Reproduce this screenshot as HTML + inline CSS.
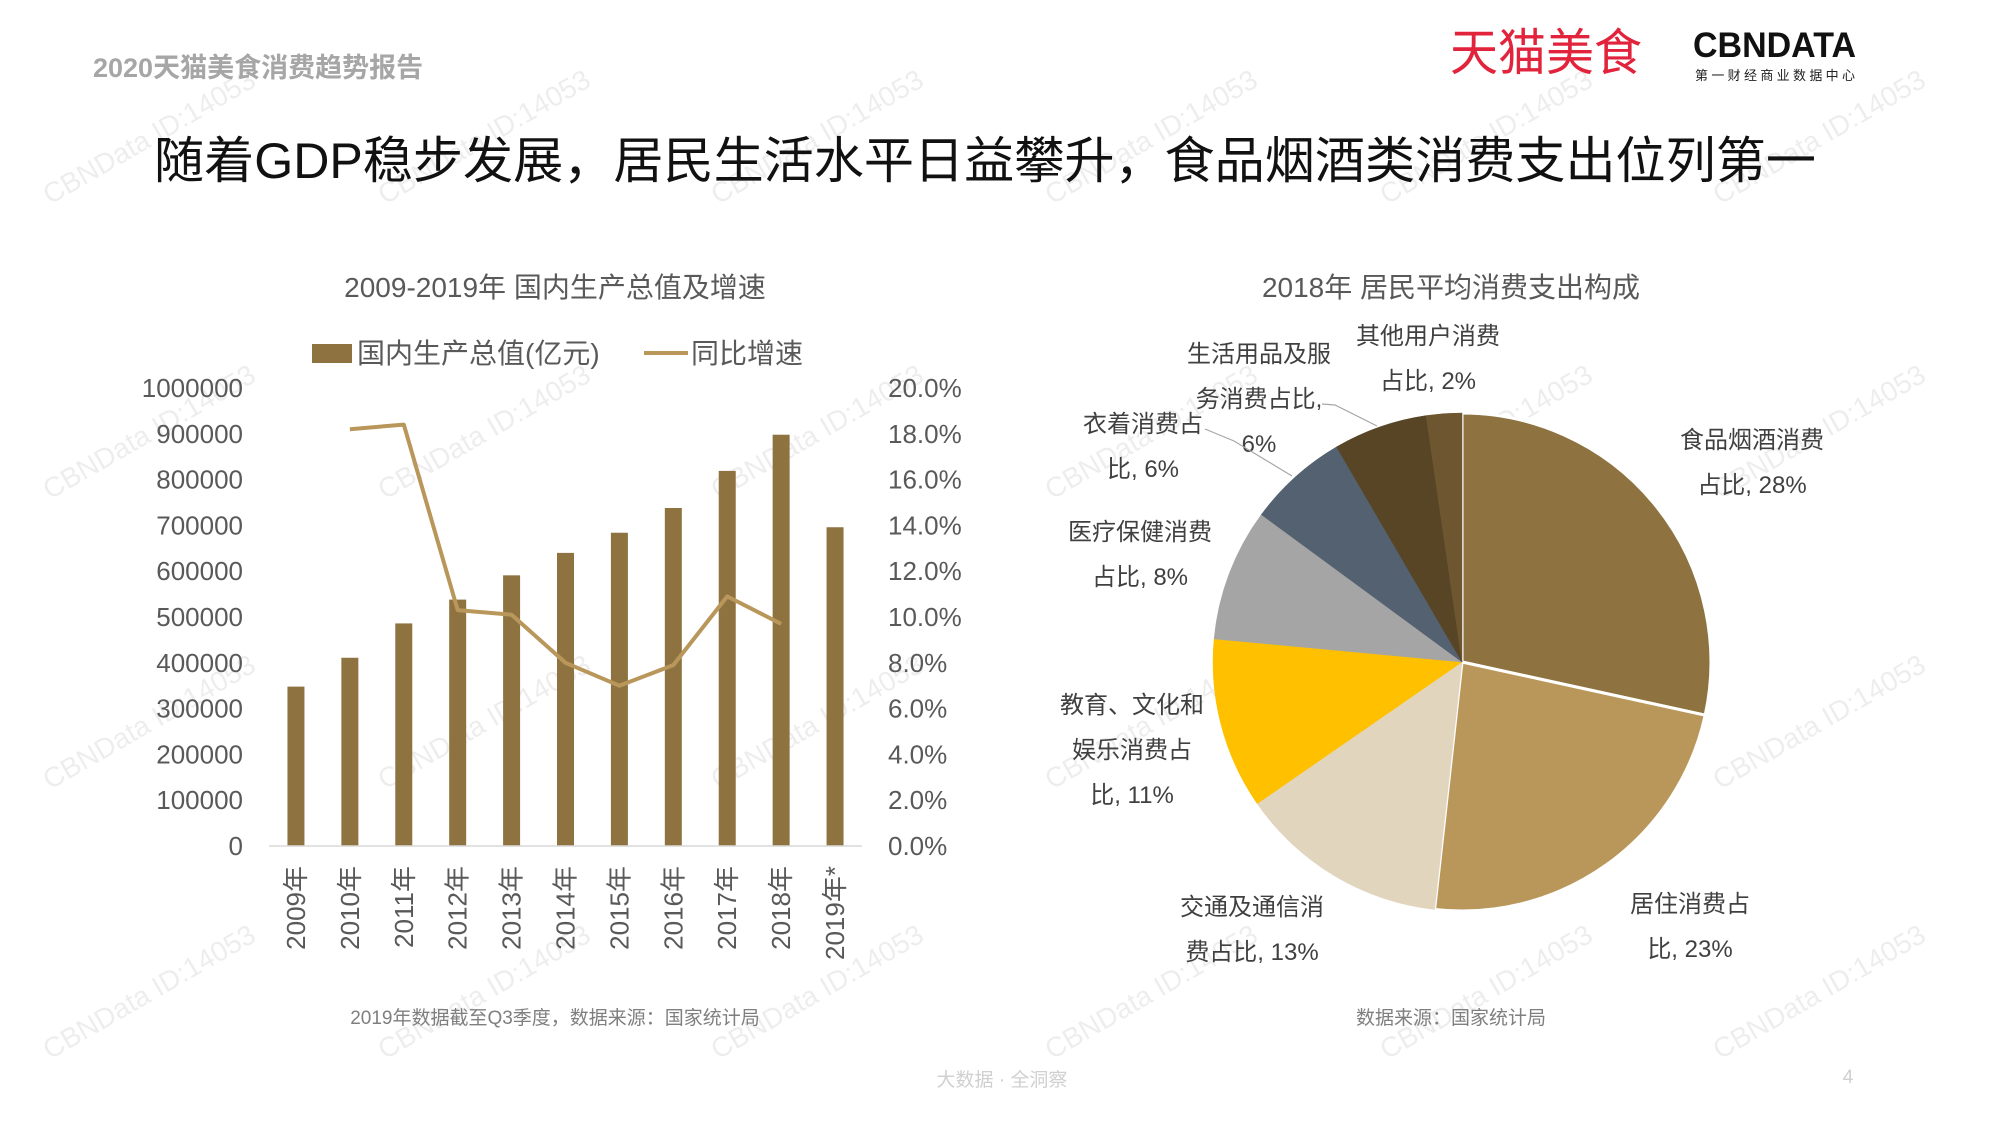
<!DOCTYPE html>
<html><head><meta charset="utf-8"><style>
html,body{margin:0;padding:0;background:#fff;}
svg{display:block;font-family:"Liberation Sans","Noto Sans CJK SC",sans-serif;}
</style></head><body>
<svg id="s" width="2000" height="1125" viewBox="0 0 2000 1125" xmlns="http://www.w3.org/2000/svg">
<g id="wm"></g>
<text x="93" y="77" font-size="27" font-weight="bold" fill="#a6a6a6">2020天猫美食消费趋势报告</text>
<text x="1450" y="70" font-size="50" fill="#e2233c" textLength="192" lengthAdjust="spacingAndGlyphs">天猫美食</text>
<g>
<text x="1693" y="57" font-size="35" font-weight="bold" fill="#111" textLength="163" lengthAdjust="spacingAndGlyphs">CBNDATA</text>
<text x="1695" y="80" font-size="13" fill="#222" textLength="160" lengthAdjust="spacing">第一财经商业数据中心</text>
</g>
<text x="985" y="178" font-size="50" fill="#111" text-anchor="middle" textLength="1662" lengthAdjust="spacingAndGlyphs">随着GDP稳步发展，居民生活水平日益攀升，食品烟酒类消费支出位列第一</text>

<text x="555" y="297" font-size="28" fill="#595959" text-anchor="middle">2009-2019年 国内生产总值及增速</text>
<g>
<rect x="312" y="344" width="40" height="19" fill="#8E7340"/>
<text x="357" y="363" font-size="28" fill="#595959">国内生产总值(亿元)</text>
<line x1="644" y1="353" x2="688" y2="353" stroke="#B9975B" stroke-width="4"/>
<text x="691" y="363" font-size="28" fill="#595959">同比增速</text>
</g>
<g id="bar"></g>
<text x="555" y="1024" font-size="19" fill="#7f7f7f" text-anchor="middle">2019年数据截至Q3季度，数据来源：国家统计局</text>

<text x="1451" y="297" font-size="28" fill="#595959" text-anchor="middle">2018年 居民平均消费支出构成</text>
<g id="pie"></g>
<text x="1451" y="1024" font-size="19" fill="#7f7f7f" text-anchor="middle">数据来源：国家统计局</text>

<text x="1002" y="1086" font-size="19" fill="#d0d0d0" text-anchor="middle">大数据 · 全洞察</text>
<text x="1848" y="1083" font-size="19" fill="#d0d0d0" text-anchor="middle">4</text>
</svg>
<script>
const categories=["2009年","2010年","2011年","2012年","2013年","2014年","2015年","2016年","2017年","2018年","2019年*"];
const gdpValues=[348000,411000,486000,538000,591000,640000,684000,738000,819000,898000,696000];
const growthValues=[null,18.2,18.4,10.3,10.1,8.0,7.0,7.9,10.9,9.7,null];
const leftTicks=[0,100000,200000,300000,400000,500000,600000,700000,800000,900000,1000000];
const rightTicks=[0,2,4,6,8,10,12,14,16,18,20];
const pieLabels=["食品烟酒消费|占比, 28%","居住消费占|比, 23%","交通及通信消|费占比, 13%","教育、文化和|娱乐消费占|比, 11%","医疗保健消费|占比, 8%","衣着消费占|比, 6%","生活用品及服|务消费占比,|6%","其他用户消费|占比, 2%"];
const pieValues=[28.4,23.3,13.6,11.1,8.6,6.5,6.1,2.3];
const pieNames=["food","housing","transport","education","medical","clothing","daily-goods","other"];

const NS="http://www.w3.org/2000/svg";
function mk(tag,attrs,parent,txt){const e=document.createElementNS(NS,tag);for(const k in attrs)e.setAttribute(k,attrs[k]);if(txt!=null)e.textContent=txt;parent.appendChild(e);return e;}

// watermarks
const wm=document.getElementById('wm');
[[50,205],[385,205],[718,205],[1052,205],[1387,205],[1720,205],[50,500],[385,500],[718,500],[1052,500],[1387,500],[1720,500],[50,790],[385,790],[718,790],[1052,790],[1387,790],[1720,790],[50,1060],[385,1060],[718,1060],[1052,1060],[1387,1060],[1720,1060]].forEach(p=>{
 const t=mk('text',{x:p[0],y:p[1],'font-size':28,fill:'#000','fill-opacity':0.07,transform:`rotate(-30 ${p[0]} ${p[1]})`},wm,'CBNData ID:14053');
 
 
});

// bar chart
const g=document.getElementById('bar');
const x0=269,x1=862,yBase=846,yTop=388;
const band=(x1-x0)/categories.length;
const xc=i=>x0+band*(i+0.5);
const yL=v=>yBase-(v/1000000)*(yBase-yTop);
const yR=v=>yBase-(v/20)*(yBase-yTop);
leftTicks.forEach(v=>{const t=mk('text',{x:243,y:yL(v)+9,'font-size':26,fill:'#595959','text-anchor':'end'},g,String(v));
 
 });
rightTicks.forEach(v=>{const t=mk('text',{x:888,y:yR(v)+9,'font-size':26,fill:'#595959'},g,v.toFixed(1)+'%');
 
 });
gdpValues.forEach((v,i)=>{const r=mk('rect',{x:xc(i)-8.5,y:yL(v),width:17,height:yBase-yL(v),fill:'#8E7340'},g);
 
 });
const ax=mk('line',{x1:x0,y1:yBase,x2:x1,y2:yBase,stroke:'#d9d9d9','stroke-width':1.5},g);


categories.forEach((c,i)=>{const X=xc(i)+9,Y=866;const t=mk('text',{x:X,y:Y,'font-size':26,fill:'#595959','text-anchor':'end',transform:`rotate(-90 ${X} ${Y})`},g,c);
 
 });
let pts=[];growthValues.forEach((v,i)=>{if(v!=null)pts.push(xc(i).toFixed(1)+','+yR(v).toFixed(1));});
const pl=mk('polyline',{points:pts.join(' '),fill:'none',stroke:'#B9975B','stroke-width':4,'stroke-linejoin':'round'},g);



// pie
const pg=document.getElementById('pie');
const cx=1462,cy=662,R=249;
const colors=['#8E7340','#B9975B','#E2D5BE','#FFC000','#A5A5A5','#546170','#574526','#6E5630'];
const total=pieValues.reduce((a,b)=>a+b,0);
let a0=0;
pieValues.forEach((v,i)=>{const a1=a0+v/total*Math.PI*2;
 const p=(a)=>[cx+R*Math.sin(a),cy-R*Math.cos(a)];
 const s=p(a0),e=p(a1);
 const d=`M${cx},${cy}L${s[0].toFixed(1)},${s[1].toFixed(1)}A${R},${R} 0 ${(a1-a0)>Math.PI?1:0} 1 ${e[0].toFixed(1)},${e[1].toFixed(1)}Z`;
 const sw=(i<2)?3:0.5;
 const path=mk('path',{d:d,fill:colors[i],stroke:i<2?'#fff':colors[i],'stroke-width':sw},pg);
 
 
 a0=a1;});
const labelPos=[[1752,439],[1690,903],[1252,906],[1132,704],[1140,531],[1143,423],[1259,353],[1428,335]];
pieLabels.forEach((l,i)=>{l.split('|').forEach((ln,j)=>{
 const t=mk('text',{x:labelPos[i][0],y:labelPos[i][1]+j*45+9,'font-size':24,fill:'#404040','text-anchor':'middle'},pg,ln);
 
 });});
const l1=mk('polyline',{points:'1205,429 1234,441 1292,476',fill:'none',stroke:'#a6a6a6','stroke-width':1.2},pg);


const l2=mk('polyline',{points:'1322,404 1335,405 1377,426',fill:'none',stroke:'#a6a6a6','stroke-width':1.2},pg);


</script>
</body></html>
